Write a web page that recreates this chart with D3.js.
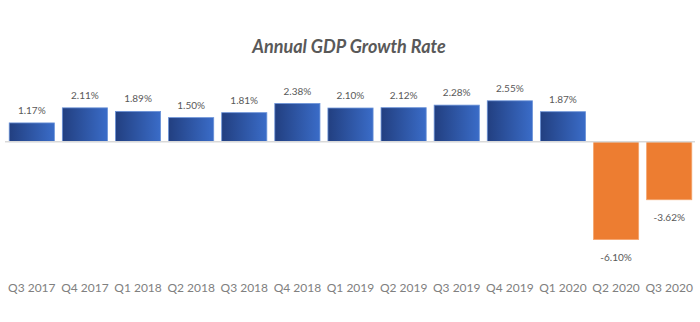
<!DOCTYPE html>
<html>
<head>
<script src="https://d3js.org/d3.v7.min.js"></script>
<style>
  body { margin: 0; background: #fff; }
  text { font-family: Lato, "Open Sans", sans-serif; }
</style>
</head>
<body>
<div id="chart"></div>
<script>
  var quarters = ["Q3 2017", "Q4 2017", "Q1 2018", "Q2 2018", "Q3 2018", "Q4 2018",
                  "Q1 2019", "Q2 2019", "Q3 2019", "Q4 2019", "Q1 2020", "Q2 2020", "Q3 2020"];
  var growth = [1.17, 2.11, 1.89, 1.50, 1.81, 2.38, 2.10, 2.12, 2.28, 2.55, 1.87, -6.10, -3.62];

  var width = 700, height = 322;

  var svg = d3.select("#chart")
              .append("svg")
                .attr("width", width)
                .attr("height", height);

  // gradient for the positive bars, dark on the left
  var grad = svg.append("defs").append("linearGradient")
                .attr("id", "blueGrad")
                .attr("x1", "0%").attr("x2", "100%")
                .attr("y1", "0%").attr("y2", "0%");
  grad.append("stop").attr("offset", "0%").attr("stop-color", "#223f80");
  grad.append("stop").attr("offset", "100%").attr("stop-color", "#3a6cc8");

  var x = d3.scaleBand()
            .domain(quarters)
            .range([5.5, 695.5])
            .paddingInner(0.15)
            .paddingOuter(0.07);

  var y = d3.scaleLinear()
            .domain([-6.10, 2.55])
            .range([239.5, 100.8]);

  // title
  svg.append("text")
     .attr("x", 349)
     .attr("y", 53)
     .attr("text-anchor", "middle")
     .style("font-size", "18px")
     .style("font-weight", "bold")
     .style("font-style", "italic")
     .style("fill", "#595959")
     .text("Annual GDP Growth Rate");

  // bars
  svg.selectAll("rect.bar")
     .data(growth)
     .enter()
     .append("rect")
       .attr("class", "bar")
       .attr("x", function(d, i) { return x(quarters[i]); })
       .attr("width", x.bandwidth())
       .attr("y", function(d) { return Math.min(y(d), y(0)); })
       .attr("height", function(d) { return Math.abs(y(d) - y(0)); })
       .style("fill", function(d) { return d < 0 ? "#ed7d31" : "url(#blueGrad)"; })
       .style("stroke", function(d) { return d < 0 ? "#f4a46c" : "#6a92d8"; })
       .style("stroke-width", 0.8);

  // zero line
  svg.append("line")
     .attr("x1", 5).attr("x2", 695)
     .attr("y1", y(0)).attr("y2", y(0))
     .style("stroke", "#d9d9d9")
     .style("stroke-width", 1.5);

  // value labels
  svg.selectAll("text.val")
     .data(growth)
     .enter()
     .append("text")
       .attr("class", "val")
       .attr("x", function(d, i) { return x(quarters[i]) + x.bandwidth() / 2; })
       .attr("y", function(d) { return d < 0 ? y(d) + 21 : y(d) - 9; })
       .attr("text-anchor", "middle")
       .style("font-size", "10px")
       .style("fill", "#595959")
       .text(function(d) { return d.toFixed(2) + "%"; });

  // category labels
  var xAxis = svg.append("g")
                 .attr("transform", "translate(0,283)")
                 .call(d3.axisBottom(x).tickSize(0).tickPadding(0));
  xAxis.select(".domain").remove();
  xAxis.selectAll("text")
       .style("font-size", "12px")
       .style("fill", "#808080")
       .style("font-family", "Lato, 'Open Sans', sans-serif");
</script>
</body>
</html>
